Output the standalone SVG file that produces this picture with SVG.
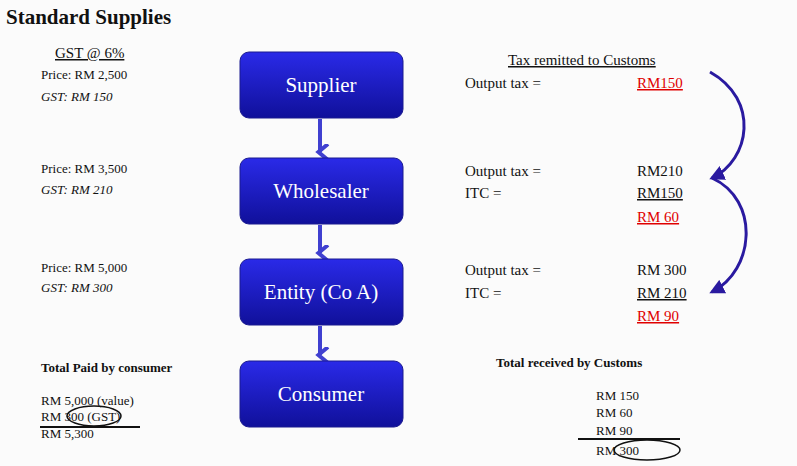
<svg xmlns="http://www.w3.org/2000/svg" width="797" height="466" viewBox="0 0 797 466">
<style>
text{font-family:"Liberation Serif","DejaVu Serif",serif;fill:#111;font-size:15px}
.n{fill:#fff;font-size:21px;text-anchor:middle}
.i{font-style:italic}
.b{font-weight:bold}
.r{fill:#e00000;text-decoration:underline}
.u{text-decoration:underline}
.box{fill:url(#g);stroke:#1a1a90;stroke-width:1}
</style>
<defs>
<linearGradient id="g" x1="0" y1="0" x2="0" y2="1"><stop offset="0" stop-color="#2a2ae8"/><stop offset="1" stop-color="#10109a"/></linearGradient>
<marker id="a" viewBox="0 0 10 10" refX="5" refY="6" markerWidth="4" markerHeight="4" orient="auto"><path d="M0,1 L5,7 L10,1" fill="none" stroke="#4040d0" stroke-width="2.5"/></marker>
<marker id="c" viewBox="0 0 10 10" refX="8" refY="5" markerWidth="5" markerHeight="5" orient="auto"><path d="M0,0 L10,5 L0,10 Z" fill="#2a1aa0"/></marker>
</defs>
<rect width="797" height="466" fill="#fbfbfb"/>
<text x="6" y="24" class="b" style="font-size:21px">Standard Supplies</text>
<g id="connectors" fill="none">
<path d="M320,119 V152" stroke="#4040d0" stroke-width="4" marker-end="url(#a)"/>
<path d="M320,225 V253" stroke="#4040d0" stroke-width="4" marker-end="url(#a)"/>
<path d="M320,326 V355" stroke="#4040d0" stroke-width="4" marker-end="url(#a)"/>
<path d="M710,72 C760,100 750,160 712,178" stroke="#2a1aa0" stroke-width="3" marker-end="url(#c)"/>
<path d="M712,178 C760,200 755,270 712,292" stroke="#2a1aa0" stroke-width="3" marker-end="url(#c)"/>
</g>
<g id="supplier"><rect class="box" x="240" y="52" width="163" height="66" rx="9"/><text class="n" x="321" y="92">Supplier</text></g>
<g id="wholesaler"><rect class="box" x="240" y="158" width="163" height="66" rx="9"/><text class="n" x="321" y="198">Wholesaler</text></g>
<g id="entity"><rect class="box" x="240" y="259" width="163" height="66" rx="9"/><text class="n" x="321" y="299">Entity (Co A)</text></g>
<g id="consumer"><rect class="box" x="240" y="361" width="163" height="66" rx="9"/><text class="n" x="321" y="401">Consumer</text></g>
<g id="left">
<text x="55" y="58" class="u">GST @ 6%</text>
<text x="41" y="79" style="font-size:13px">Price: RM 2,500</text>
<text x="41" y="101" class="i" style="font-size:13px">GST: RM 150</text>
<text x="41" y="173" style="font-size:13px">Price: RM 3,500</text>
<text x="41" y="194" class="i" style="font-size:13px">GST: RM 210</text>
<text x="41" y="272" style="font-size:13px">Price: RM 5,000</text>
<text x="41" y="292" class="i" style="font-size:13px">GST: RM 300</text>
<text x="41" y="372" class="b" style="font-size:13px">Total Paid by consumer</text>
<text x="41" y="405" style="font-size:13px">RM  5,000 (value)</text>
<text x="41" y="421" style="font-size:13px">RM       300  (GST)</text>
<text x="41" y="438" style="font-size:13px">RM  5,300</text>
<ellipse cx="94" cy="416" rx="27" ry="10" fill="none" stroke="#111" stroke-width="1.5"/>
<line x1="40" y1="427" x2="140" y2="427" stroke="#111" stroke-width="2"/>
</g>
<g id="right">
<text x="508" y="65" class="u">Tax remitted to Customs</text>
<text x="465" y="88">Output tax =</text><text x="637" y="88" class="r">RM150</text>
<text x="465" y="176">Output tax =</text><text x="637" y="176">RM210</text>
<text x="465" y="198">ITC =</text><text x="637" y="198" class="u">RM150</text>
<text x="637" y="222" class="r">RM  60</text>
<text x="465" y="275">Output tax =</text><text x="637" y="275">RM 300</text>
<text x="465" y="298">ITC =</text><text x="637" y="298" class="u">RM 210</text>
<text x="637" y="321" class="r">RM  90</text>
<text x="496" y="367" class="b" style="font-size:13px">Total received  by Customs</text>
<text x="596" y="400" style="font-size:13px">RM   150</text>
<text x="596" y="417" style="font-size:13px">RM     60</text>
<text x="596" y="435" style="font-size:13px">RM     90</text>
<text x="596" y="455" style="font-size:13px">RM   300</text>
<line x1="578" y1="439" x2="680" y2="439" stroke="#111" stroke-width="2"/>
<ellipse cx="647" cy="450" rx="33" ry="10" fill="none" stroke="#111" stroke-width="1.5"/>
</g>
</svg>
